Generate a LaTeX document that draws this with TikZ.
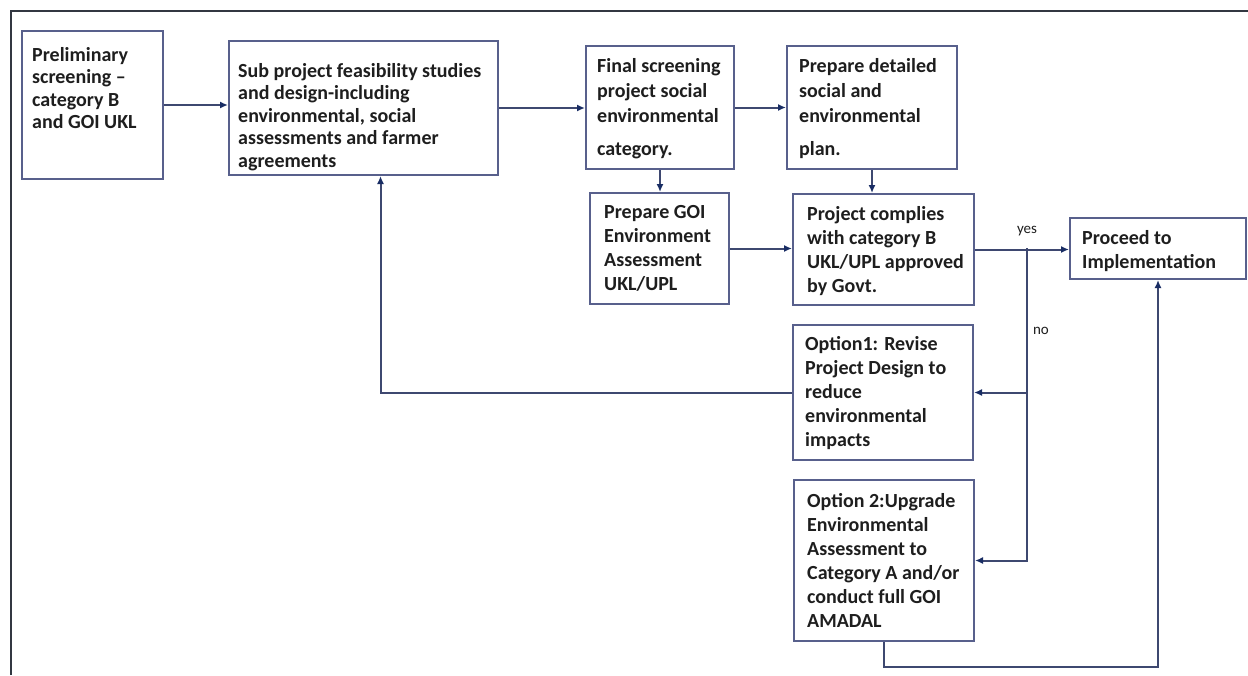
\documentclass[tikz,border=0pt]{standalone}
\usepackage{fontspec}
\setmainfont{Carlito}
\usetikzlibrary{arrows.meta}
\definecolor{boxline}{RGB}{88,96,140}
\definecolor{linkc}{RGB}{62,72,112}
\definecolor{tipc}{RGB}{25,45,100}
\definecolor{ink}{RGB}{30,30,30}
\definecolor{framec}{RGB}{50,55,65}
\begin{document}
\begin{tikzpicture}[x=1pt,y=-1pt,
  box/.style={draw=boxline, line width=2pt, anchor=north west, inner sep=0pt},
  txt/.style={anchor=north west, inner sep=0pt, align=left, text=ink,
    font=\fontsize{20}{24}\selectfont\bfseries},
  link/.style={draw=linkc, line width=2pt},
  arr/.style={link, -{Latex[length=8pt,width=7pt,color=tipc]}},
  tag/.style={font=\fontsize{15}{17}\selectfont, text=ink, inner sep=0pt}]
\useasboundingbox (0,0) rectangle (1248,675);
\fill[white] (0,0) rectangle (1248,675);
% outer frame (top and left edges)
\draw[framec, line width=2pt] (11,675) -- (11,11) -- (1248,11);

% boxes
\node[box, minimum width=141pt, minimum height=148pt] (pre)  at (21,30)   {};
\node[box, minimum width=269pt, minimum height=134pt] (sub)  at (228,40)  {};
\node[box, minimum width=148pt, minimum height=123pt] (fin)  at (585,45)  {};
\node[box, minimum width=170pt, minimum height=123pt] (det)  at (786,45)  {};
\node[box, minimum width=139pt, minimum height=111pt] (goi)  at (589,192) {};
\node[box, minimum width=181pt, minimum height=111pt] (comp) at (792,193) {};
\node[box, minimum width=176pt, minimum height=61pt]  (proc) at (1069,217) {};
\node[box, minimum width=180pt, minimum height=135pt] (opa)  at (792,324) {};
\node[box, minimum width=180pt, minimum height=161pt] (opb)  at (793,479) {};

% box texts
\node[txt, font=\fontsize{20}{22.5}\selectfont\bfseries] (preT) at ([shift={(11,17)}]pre.north west)
  {Preliminary\\screening –\\category B\\and GOI UKL};
\node[txt, font=\fontsize{20}{22.5}\selectfont\bfseries] (subT) at ([shift={(10,23)}]sub.north west)
  {Sub project feasibility studies\\and design-including\\environmental, social\\assessments and farmer\\agreements};
\node[txt, font=\fontsize{20}{25}\selectfont\bfseries] (finT) at ([shift={(12,13)}]fin.north west)
  {Final screening\\project social\\environmental\\[8pt]category.};
\node[txt, font=\fontsize{20}{25}\selectfont\bfseries] (detT) at ([shift={(13,13)}]det.north west)
  {Prepare detailed\\social and\\environmental\\[8pt]plan.};
\node[txt] (goiT) at ([shift={(15,13)}]goi.north west)
  {Prepare GOI\\Environment\\Assessment\\UKL/UPL};
\node[txt] (compT) at ([shift={(15,13)}]comp.north west)
  {Project complies\\with category B\\UKL/UPL approved\\by Govt.};
\node[txt] (procT) at ([shift={(13,13)}]proc.north west)
  {Proceed to\\Implementation};
\node[txt] (opaT) at ([shift={(13,12)}]opa.north west)
  {Option1: Revise\\Project Design to\\reduce\\environmental\\impacts};
\node[txt] (opbT) at ([shift={(14,14)}]opb.north west)
  {Option 2:Upgrade\\Environmental\\Assessment to\\Category A and/or\\conduct full GOI\\AMADAL};

% connectors
\draw[arr] (pre.east) -- (pre.east -| sub.west);
\draw[arr] (sub.east) -- (sub.east -| fin.west);
\draw[arr] (fin.east) -- (fin.east -| det.west);
\draw[arr] (fin.south) -- (fin.south |- goi.north);
\draw[arr] (det.south) -- (det.south |- comp.north);
\draw[arr] (goi.east) -- (goi.east -| comp.west);
\draw[arr] (comp.east) -- (comp.east -| proc.west);
\coordinate (br) at (1027,248);
\draw[arr] (br) |- (opa.east);
\draw[arr] (br) |- (opb.east);
\draw[arr] (opa.west) -| ([xshift=17pt]sub.south);
\draw[arr] (opb.south) -- ++(0,25) -| (proc.south);

% branch labels
\node[tag] (yes) at (1027,231) {yes};
\node[tag] (no) at (1041,331) {no};
\end{tikzpicture}
\end{document}
